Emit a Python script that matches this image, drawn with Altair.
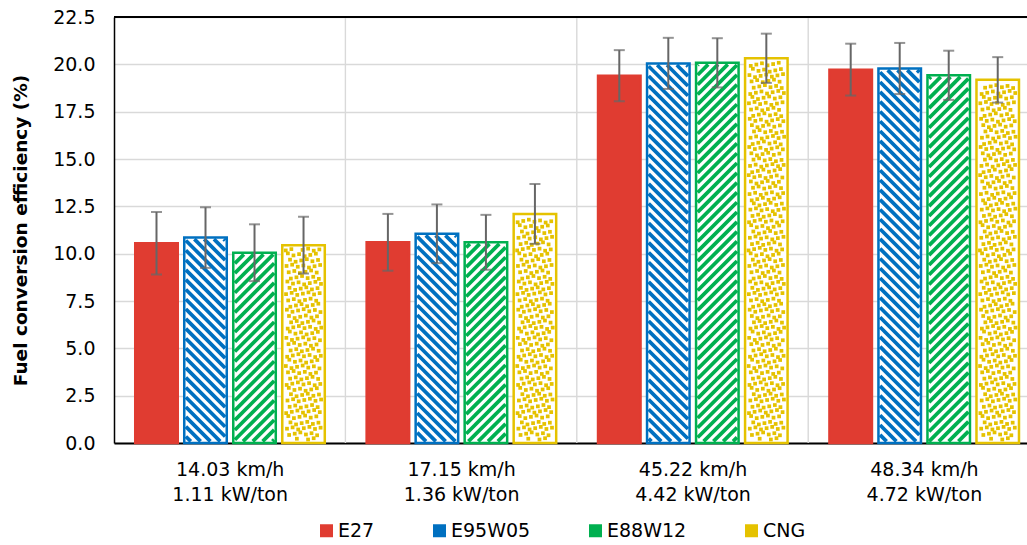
import json
import math

import altair as alt
import pandas as pd

# ---- data -------------------------------------------------------------
GROUP_SPEED = ["14.03 km/h", "17.15 km/h", "45.22 km/h", "48.34 km/h"]
GROUP_POWER = ["1.11 kW/ton", "1.36 kW/ton", "4.42 kW/ton", "4.72 kW/ton"]
SERIES = ["E27", "E95W05", "E88W12", "CNG"]
COLORS = ["#E03C31", "#0070C0", "#00B050", "#E5C200"]

E27 = [10.55, 10.60, 19.40, 19.72]
E95W05 = [10.85, 11.05, 20.05, 19.78]
E88W12 = [10.05, 10.60, 20.08, 19.42]
CNG = [10.45, 12.10, 20.32, 19.18]

E27_ERR = [1.65, 1.50, 1.35, 1.37]
E95W05_ERR = [1.60, 1.55, 1.35, 1.35]
E88W12_ERR = [1.50, 1.45, 1.30, 1.30]
CNG_ERR = [1.50, 1.58, 1.30, 1.20]

Y_TICKS = [i * 2.5 for i in range(10)]

# ---- layout -----------------------------------------------------------
PLOT_W = 913
PLOT_H = 426
GROUP_PX = 231.4                # width of one speed group in pixels
X_MAX = PLOT_W / GROUP_PX       # plot runs out at the right edge of the page
Y_MAX = 22.5
SX = PLOT_W / X_MAX
SY = PLOT_H / Y_MAX

BAR_START = 0.0918
BAR_PITCH = 0.2118
BAR_W = 0.1837

FONT = "DejaVu Sans"

values = {"E27": E27, "E95W05": E95W05, "E88W12": E88W12, "CNG": CNG}
errors = {"E27": E27_ERR, "E95W05": E95W05_ERR, "E88W12": E88W12_ERR, "CNG": CNG_ERR}
color_of = dict(zip(SERIES, COLORS))

bars = []
for g in range(len(GROUP_SPEED)):
    for j, s in enumerate(SERIES):
        x0 = g + BAR_START + j * BAR_PITCH
        v = values[s][g]
        e = errors[s][g]
        bars.append({
            "series": s, "group": g, "x": x0, "x2": x0 + BAR_W,
            "xc": x0 + BAR_W / 2, "y": 0.0, "y2": v,
            "lo": v - e, "hi": v + e, "edge": color_of[s],
        })
bars_df = pd.DataFrame(bars)


def stripe_segments(x0, x1, top, slope, period=9.8, inset=1.6):
    """Diagonal hatch lines clipped to a bar, returned in data units."""
    L, R = x0 * SX + inset, x1 * SX - inset
    B, T = inset, top * SY - inset
    if slope > 0:
        cmin, cmax = B - R, T - L
    else:
        cmin, cmax = L + B, R + T
    segs = []
    for k in range(math.floor(cmin / period), math.ceil(cmax / period) + 1):
        c = k * period
        if slope > 0:
            xa, xb = max(L, B - c), min(R, T - c)
        else:
            xa, xb = max(L, c - T), min(R, c - B)
        if xb - xa > 0.4:
            ya, yb = slope * xa + c, slope * xb + c
            segs.append((xa / SX, ya / SY, xb / SX, yb / SY))
    return segs


def confetti_points(x0, x1, top, step=5.6, margin=3.4):
    """Scattered small squares filling a bar, returned in data units."""
    L, R = x0 * SX + margin, x1 * SX - margin
    B, T = margin, top * SY - margin
    pts = []
    rows = int((T - B) / step) + 2
    cols = int((R - L) / step) + 3
    for r in range(rows):
        shift = ((r * 0.618) % 1.0) * step
        for c in range(-1, cols):
            dy = (((c * 0.382 + r * 0.21) % 1.0) - 0.5) * step * 0.6
            px = L + c * step + shift
            py = B + r * step + dy
            if L <= px <= R and B <= py <= T:
                pts.append((px / SX, py / SY))
    return pts


hatch_rows = []
dot_rows = []
for b in bars:
    if b["series"] == "E95W05":
        segs = stripe_segments(b["x"], b["x2"], b["y2"], -1)
    elif b["series"] == "E88W12":
        segs = stripe_segments(b["x"], b["x2"], b["y2"], +1)
    else:
        segs = []
    for (xa, ya, xb, yb) in segs:
        hatch_rows.append({"x": xa, "y": ya, "x2": xb, "y2": yb, "edge": b["edge"]})
    if b["series"] == "CNG":
        for (px, py) in confetti_points(b["x"], b["x2"], b["y2"]):
            dot_rows.append({"x": px, "y": py, "edge": b["edge"]})
hatch_df = pd.DataFrame(hatch_rows)
dot_df = pd.DataFrame(dot_rows)

edges_df = pd.DataFrame({"x": [1.0, 2.0, 3.0]})
frame_df = pd.DataFrame({"x": [0.0], "x2": [X_MAX], "y": [Y_MAX]})

# ---- shared encodings -------------------------------------------------
label_table = json.dumps([[s, p] for s, p in zip(GROUP_SPEED, GROUP_POWER)])
x_scale = alt.Scale(domain=[0, X_MAX], nice=False, zero=False)
y_scale = alt.Scale(domain=[0, Y_MAX], nice=False)
x_axis = alt.Axis(
    values=[g + 0.5 for g in range(len(GROUP_SPEED))],
    labelExpr=f"{label_table}[floor(datum.value)]",
    title=None, grid=False, ticks=False,
    labelFontSize=19, labelLineHeight=25, labelPadding=17,
    labelFont=FONT, labelColor="#000000",
    domainColor="#000000", domainWidth=2,
)
y_axis = alt.Axis(
    values=Y_TICKS, format=".1f", title="Fuel conversion efficiency (%)",
    grid=True, gridColor="#D9D9D9", gridWidth=1.4, ticks=False,
    labelFontSize=19, labelPadding=19, labelFont=FONT, labelColor="#000000",
    titleFont=FONT, titleFontSize=18.5, titleFontWeight="bold",
    titleColor="#000000", titlePadding=22,
    domainColor="#000000", domainWidth=1.5,
)


def X(field="x"):
    return alt.X(f"{field}:Q", scale=x_scale, axis=x_axis)


def Y(field="y"):
    return alt.Y(f"{field}:Q", scale=y_scale, axis=y_axis)


# ---- layers -----------------------------------------------------------
group_lines = alt.Chart(edges_df).mark_rule(color="#D9D9D9", strokeWidth=1.4).encode(
    x=X(), y=alt.value(0), y2=alt.value(PLOT_H)
)

base = alt.Chart(bars_df).mark_rect().encode(
    x=X(), x2="x2:Q", y=Y(), y2="y2:Q",
    fill=alt.Fill(
        "series:N",
        scale=alt.Scale(domain=SERIES, range=COLORS),
        legend=alt.Legend(
            title=None, orient="none", direction="horizontal",
            legendX=203, legendY=504,
            symbolType="square", symbolSize=169, symbolStrokeWidth=0,
            labelFontSize=19, labelFont=FONT, labelColor="#000000",
            labelOffset=2, columnPadding=55,
        ),
    ),
)

blank = alt.Chart(bars_df[bars_df["series"] != "E27"]).mark_rect(
    fill="#FFFFFF"
).encode(x=X(), x2="x2:Q", y=Y(), y2="y2:Q")

hatch = alt.Chart(hatch_df).mark_rule(strokeWidth=3.7, strokeCap="butt").encode(
    x=X(), x2="x2:Q", y=Y(), y2="y2:Q",
    stroke=alt.Stroke("edge:N", scale=None),
)

dots = alt.Chart(dot_df).mark_square(size=14, opacity=1, strokeWidth=0).encode(
    x=X(), y=Y(), fill=alt.Fill("edge:N", scale=None),
)

borders = alt.Chart(bars_df).mark_rect(filled=False, strokeWidth=2.5).encode(
    x=X(), x2="x2:Q", y=Y(), y2="y2:Q",
    stroke=alt.Stroke("edge:N", scale=None),
)

err_line = alt.Chart(bars_df).mark_rule(color="#666666", strokeWidth=2).encode(
    x=X("xc"), y=Y("lo"), y2="hi:Q"
)
err_lo = alt.Chart(bars_df).mark_tick(
    color="#666666", orient="horizontal", size=11, thickness=2
).encode(x=X("xc"), y=Y("lo"))
err_hi = alt.Chart(bars_df).mark_tick(
    color="#666666", orient="horizontal", size=11, thickness=2
).encode(x=X("xc"), y=Y("hi"))

top_frame = alt.Chart(frame_df).mark_rule(color="#000000", strokeWidth=2).encode(
    x=X(), x2="x2:Q", y=Y()
)

chart = alt.layer(
    group_lines, base, blank, hatch, dots, borders, err_line, err_lo, err_hi, top_frame
).properties(
    width=PLOT_W, height=PLOT_H,
    autosize=alt.AutoSizeParams(type="none"),
    padding={"left": 114, "top": 17, "right": 0, "bottom": 102},
    background="#FFFFFF",
).configure_view(stroke=None)

chart.save("out.html", embed_options={"renderer": "svg", "actions": False})
